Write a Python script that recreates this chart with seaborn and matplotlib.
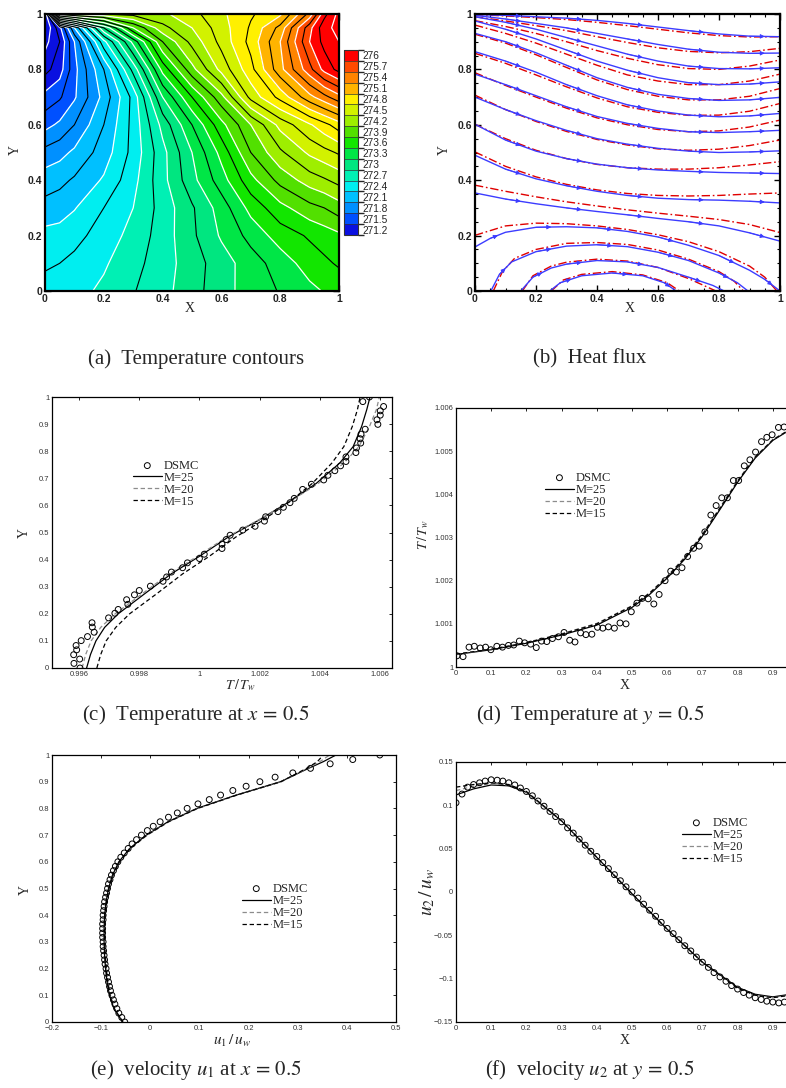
import matplotlib
matplotlib.use("Agg")
import numpy as np
import pandas as pd
import matplotlib.pyplot as plt
import seaborn as sns
from matplotlib.colors import ListedColormap, BoundaryNorm
from matplotlib.cm import ScalarMappable
from matplotlib.ticker import MultipleLocator, FixedLocator, FuncFormatter

# ---------------- (a) temperature field ----------------
grid_x = [0, 0.05, 0.1, 0.2, 0.3, 0.4, 0.5, 0.6, 0.7, 0.8, 0.9, 0.95, 1.0]
grid_y = [0, 0.1, 0.2, 0.3, 0.4, 0.5, 0.6, 0.7, 0.8, 0.9, 0.95, 1.0]
temp_y00 = [272.45, 272.47, 272.50, 272.58, 272.69, 272.80, 272.94, 273.09, 273.22, 273.31, 273.41, 273.46, 273.50]
temp_y01 = [272.38, 272.40, 272.44, 272.53, 272.65, 272.78, 272.93, 273.08, 273.23, 273.37, 273.52, 273.57, 273.62]
temp_y02 = [272.30, 272.31, 272.35, 272.47, 272.60, 272.77, 272.97, 273.17, 273.35, 273.52, 273.62, 273.67, 273.72]
temp_y03 = [272.15, 272.18, 272.24, 272.40, 272.55, 272.76, 272.98, 273.22, 273.50, 273.70, 273.85, 273.90, 273.98]
temp_y04 = [272.03, 272.06, 272.12, 272.27, 272.50, 272.80, 273.10, 273.38, 273.70, 273.95, 274.12, 274.18, 274.25]
temp_y05 = [271.85, 271.90, 271.98, 272.17, 272.45, 272.80, 273.15, 273.50, 273.90, 274.17, 274.38, 274.45, 274.52]
temp_y06 = [271.60, 271.68, 271.80, 272.10, 272.45, 272.90, 273.30, 273.70, 274.05, 274.40, 274.63, 274.75, 274.88]
temp_y07 = [271.40, 271.48, 271.63, 272.00, 272.45, 273.15, 273.60, 274.00, 274.55, 274.85, 275.20, 275.35, 275.50]
temp_y08 = [271.15, 271.28, 271.60, 272.10, 272.75, 273.50, 274.00, 274.40, 274.75, 275.20, 275.65, 275.90, 276.05]
temp_y09 = [271.00, 271.20, 271.65, 272.50, 273.20, 273.90, 274.25, 274.55, 274.85, 275.25, 275.85, 276.05, 276.15]
temp_y095 = [270.90, 271.30, 271.95, 273.00, 273.75, 274.15, 274.35, 274.58, 274.82, 275.15, 275.80, 276.10, 276.20]
temp_y10 = [270.80, 274.00, 274.15, 274.20, 274.25, 274.32, 274.45, 274.62, 274.78, 274.92, 275.45, 275.95, 276.20]

cbar_labels = [271.2, 271.5, 271.8, 272.1, 272.4, 272.7, 273.0, 273.3, 273.6,
               273.9, 274.2, 274.5, 274.8, 275.1, 275.4, 275.7, 276.0]
cbar_colors = ['#0a10e0', '#0050ff', '#0090ff', '#00c0ff', '#00eef0', '#00f0b4',
               '#00e680', '#00e646', '#12e600', '#52e000', '#9eee00', '#d2f200',
               '#fff000', '#ffb400', '#ff8400', '#ff4a00', '#ff0000']

# ---------------- (b) heat-flux lines ----------------
flux_x = [0, 0.1, 0.2, 0.3, 0.4, 0.5, 0.6, 0.7, 0.8, 0.9, 1.0]
blue_1 = [0.998, 0.995, 0.990, 0.985, 0.977, 0.966, 0.953, 0.940, 0.928, 0.920, 0.918]
blue_2 = [0.995, 0.982, 0.966, 0.950, 0.930, 0.910, 0.890, 0.873, 0.862, 0.858, 0.859]
blue_3 = [0.990, 0.970, 0.945, 0.915, 0.885, 0.855, 0.830, 0.812, 0.803, 0.802, 0.806]
blue_4 = [0.975, 0.945, 0.910, 0.870, 0.830, 0.797, 0.770, 0.752, 0.745, 0.747, 0.755]
blue_5 = [0.930, 0.900, 0.860, 0.815, 0.770, 0.735, 0.710, 0.695, 0.688, 0.690, 0.699]
blue_6 = [0.864, 0.830, 0.790, 0.745, 0.705, 0.672, 0.650, 0.635, 0.629, 0.632, 0.641]
blue_7 = [0.783, 0.745, 0.705, 0.665, 0.630, 0.605, 0.587, 0.575, 0.572, 0.575, 0.580]
blue_8 = [0.700, 0.655, 0.615, 0.580, 0.550, 0.530, 0.515, 0.505, 0.500, 0.502, 0.506]
blue_9 = [0.602, 0.545, 0.505, 0.478, 0.458, 0.445, 0.437, 0.432, 0.428, 0.426, 0.424]
blue_10 = [0.490, 0.440, 0.405, 0.380, 0.360, 0.345, 0.335, 0.330, 0.328, 0.324, 0.318]
blue_11 = [0.354, 0.332, 0.315, 0.300, 0.287, 0.275, 0.262, 0.250, 0.235, 0.210, 0.180]
blue_12_x = [0, 0.05, 0.1, 0.2, 0.3, 0.4, 0.5, 0.6, 0.7, 0.8, 0.9, 0.95, 1.0]
blue_12_y = [0.159, 0.190, 0.212, 0.230, 0.232, 0.228, 0.215, 0.195, 0.165, 0.128, 0.075, 0.042, 0.0]
blue_arc1_x = [0.052, 0.08, 0.12, 0.2, 0.3, 0.4, 0.5, 0.6, 0.7, 0.8, 0.86, 0.895]
blue_arc1_y = [0.0, 0.06, 0.105, 0.142, 0.162, 0.167, 0.160, 0.140, 0.110, 0.065, 0.030, 0.0]
blue_arc2_x = [0.15, 0.19, 0.25, 0.3, 0.4, 0.5, 0.6, 0.7, 0.78, 0.817]
blue_arc2_y = [0.0, 0.05, 0.083, 0.097, 0.110, 0.105, 0.085, 0.050, 0.020, 0.0]
blue_arc3_x = [0.245, 0.28, 0.35, 0.45, 0.55, 0.62, 0.66]
blue_arc3_y = [0.0, 0.03, 0.055, 0.065, 0.055, 0.030, 0.0]

red_1 = [0.998, 0.993, 0.987, 0.980, 0.970, 0.958, 0.945, 0.932, 0.922, 0.917, 0.918]
red_2 = [0.990, 0.975, 0.958, 0.940, 0.918, 0.897, 0.878, 0.865, 0.860, 0.864, 0.876]
red_3 = [0.976, 0.955, 0.930, 0.900, 0.868, 0.840, 0.817, 0.803, 0.800, 0.812, 0.834]
red_4 = [0.960, 0.930, 0.895, 0.855, 0.815, 0.780, 0.758, 0.745, 0.745, 0.758, 0.783]
red_5 = [0.927, 0.895, 0.853, 0.807, 0.762, 0.727, 0.703, 0.690, 0.690, 0.703, 0.731]
red_6 = [0.858, 0.822, 0.780, 0.737, 0.697, 0.665, 0.645, 0.634, 0.635, 0.649, 0.677]
red_7 = [0.788, 0.742, 0.700, 0.660, 0.625, 0.600, 0.583, 0.575, 0.578, 0.592, 0.617]
red_8 = [0.707, 0.655, 0.612, 0.576, 0.547, 0.527, 0.513, 0.508, 0.512, 0.525, 0.545]
red_9 = [0.602, 0.550, 0.508, 0.478, 0.457, 0.445, 0.440, 0.440, 0.445, 0.455, 0.467]
red_10 = [0.502, 0.450, 0.412, 0.385, 0.365, 0.352, 0.345, 0.343, 0.345, 0.350, 0.354]
red_11 = [0.382, 0.360, 0.340, 0.322, 0.307, 0.293, 0.281, 0.270, 0.258, 0.240, 0.211]
red_12_x = [0, 0.1, 0.2, 0.3, 0.4, 0.5, 0.6, 0.7, 0.8, 0.9, 0.95, 0.99]
red_12_y = [0.201, 0.235, 0.245, 0.243, 0.235, 0.222, 0.203, 0.178, 0.142, 0.090, 0.050, 0.0]
red_arc1_x = [0.06, 0.09, 0.13, 0.2, 0.3, 0.4, 0.5, 0.6, 0.7, 0.8, 0.85, 0.88]
red_arc1_y = [0.0, 0.07, 0.118, 0.150, 0.172, 0.175, 0.168, 0.148, 0.115, 0.070, 0.035, 0.0]
red_arc2_x = [0.155, 0.19, 0.25, 0.3, 0.4, 0.5, 0.6, 0.7, 0.76, 0.79]
red_arc2_y = [0.0, 0.055, 0.090, 0.104, 0.115, 0.108, 0.085, 0.045, 0.015, 0.0]
red_arc3_x = [0.25, 0.29, 0.35, 0.45, 0.55, 0.63, 0.67]
red_arc3_y = [0.0, 0.04, 0.060, 0.070, 0.058, 0.030, 0.0]

# ---------------- (c) temperature at x=0.5 ----------------
c_dsmc_T = [0.99603, 0.99583, 0.99602, 0.99582, 0.99592, 0.99590, 0.99607, 0.99628, 0.99650, 0.99644,
            0.99643, 0.99698, 0.99719, 0.99730, 0.99762, 0.99758, 0.99784, 0.99800, 0.99837, 0.99879,
            0.99891, 0.99907, 0.99944, 0.99960, 1.00000, 1.00016, 1.00075, 1.00075, 1.00089, 1.00102,
            1.00144, 1.00185, 1.00216, 1.00220, 1.00261, 1.00279, 1.00301, 1.00315, 1.00343, 1.00372,
            1.00413, 1.00427, 1.00450, 1.00469, 1.00487, 1.00487, 1.00520, 1.00522, 1.00536, 1.00534,
            1.00537, 1.00551, 1.00593, 1.00590, 1.00601, 1.00601, 1.00612, 1.00543, 1.00565]
c_dsmc_Y = [0.000, 0.017, 0.033, 0.049, 0.067, 0.083, 0.101, 0.116, 0.132, 0.151,
            0.167, 0.185, 0.202, 0.216, 0.235, 0.252, 0.270, 0.286, 0.302, 0.320,
            0.336, 0.354, 0.370, 0.388, 0.404, 0.420, 0.441, 0.457, 0.474, 0.490,
            0.509, 0.523, 0.542, 0.558, 0.577, 0.593, 0.610, 0.626, 0.659, 0.678,
            0.694, 0.711, 0.728, 0.746, 0.762, 0.779, 0.795, 0.812, 0.830, 0.846,
            0.863, 0.881, 0.899, 0.916, 0.933, 0.949, 0.965, 0.983, 1.000]
c_line_Y = [0, 0.05, 0.1, 0.15, 0.2, 0.274, 0.348, 0.41, 0.484, 0.546, 0.614, 0.681, 0.756, 0.817, 0.891, 0.953, 1.0]
c_m25_T = [0.99625, 0.99638, 0.99656, 0.99685, 0.99730, 0.99818, 0.99907, 0.99997, 1.00097, 1.00198,
           1.00299, 1.00388, 1.00466, 1.00511, 1.00539, 1.00556, 1.00567]
c_m20_T = [0.99610, 0.99622, 0.99640, 0.99672, 0.99720, 0.99810, 0.99900, 0.99990, 1.00092, 1.00196,
           1.00300, 1.00395, 1.00480, 1.00530, 1.00565, 1.00588, 1.00598]
c_m15_T = [0.99659, 0.99672, 0.99690, 0.99722, 0.99768, 0.99858, 0.99945, 1.00030, 1.00122, 1.00212,
           1.00300, 1.00375, 1.00440, 1.00480, 1.00508, 1.00525, 1.00534]

# ---------------- (d) temperature at y=0.5 ----------------
d_dsmc_X = [0.003, 0.020, 0.037, 0.052, 0.069, 0.084, 0.099, 0.116, 0.132, 0.149, 0.164, 0.180, 0.195,
            0.212, 0.228, 0.243, 0.258, 0.274, 0.291, 0.307, 0.323, 0.338, 0.354, 0.369, 0.386, 0.402,
            0.417, 0.433, 0.450, 0.466, 0.483, 0.498, 0.514, 0.529, 0.546, 0.562, 0.577, 0.594, 0.610,
            0.626, 0.642, 0.658, 0.675, 0.691, 0.707, 0.724, 0.739, 0.755, 0.771, 0.788, 0.803, 0.819,
            0.835, 0.851, 0.868, 0.883, 0.898, 0.916, 0.932, 0.948, 0.965, 0.980]
d_dsmc_T = [1.00026, 1.00024, 1.00046, 1.00048, 1.00044, 1.00046, 1.00040, 1.00048, 1.00046, 1.00050,
            1.00051, 1.00060, 1.00056, 1.00053, 1.00045, 1.00060, 1.00059, 1.00066, 1.00070, 1.00080,
            1.00062, 1.00058, 1.00079, 1.00075, 1.00076, 1.00092, 1.00090, 1.00093, 1.00090, 1.00102,
            1.00100, 1.00128, 1.00148, 1.00159, 1.00158, 1.00146, 1.00168, 1.00200, 1.00222, 1.00220,
            1.00230, 1.00256, 1.00275, 1.00280, 1.00313, 1.00352, 1.00374, 1.00392, 1.00392, 1.00432,
            1.00432, 1.00466, 1.00480, 1.00498, 1.00522, 1.00532, 1.00538, 1.00555, 1.00556, 1.00560,
            1.00562, 1.00560]
d_line_X = [0, 0.1, 0.2, 0.3, 0.4, 0.5, 0.55, 0.6, 0.65, 0.7, 0.75, 0.8, 0.85, 0.9, 0.95, 1.0]
d_m25_T = [1.00029, 1.00040, 1.00055, 1.00074, 1.00097, 1.00138, 1.00168, 1.00206, 1.00250, 1.00303,
           1.00365, 1.00428, 1.00484, 1.00525, 1.00550, 1.00562]
d_m20_T = [1.00029, 1.00041, 1.00057, 1.00077, 1.00101, 1.00142, 1.00172, 1.00210, 1.00255, 1.00308,
           1.00370, 1.00432, 1.00487, 1.00527, 1.00551, 1.00562]
d_m15_T = [1.00030, 1.00041, 1.00056, 1.00076, 1.00100, 1.00141, 1.00171, 1.00209, 1.00253, 1.00306,
           1.00368, 1.00430, 1.00486, 1.00526, 1.00551, 1.00562]

# ---------------- (e) velocity u1 at x=0.5 ----------------
e_dsmc_Y = [0.000, 0.017, 0.033, 0.050, 0.067, 0.083, 0.100, 0.117, 0.133, 0.150, 0.167, 0.183, 0.200,
            0.217, 0.233, 0.250, 0.267, 0.283, 0.300, 0.317, 0.333, 0.350, 0.367, 0.383, 0.400, 0.417,
            0.433, 0.450, 0.467, 0.483, 0.500, 0.517, 0.533, 0.550, 0.567, 0.583, 0.600, 0.617, 0.633,
            0.650, 0.667, 0.683, 0.700, 0.717, 0.733, 0.750, 0.767, 0.783, 0.800, 0.817, 0.833, 0.850,
            0.867, 0.883, 0.900, 0.917, 0.933, 0.950, 0.967, 0.983, 1.000]
e_dsmc_u = [-0.052, -0.058, -0.064, -0.068, -0.072, -0.075, -0.078, -0.081, -0.083, -0.085, -0.087,
            -0.089, -0.090, -0.092, -0.093, -0.094, -0.095, -0.096, -0.096, -0.097, -0.097, -0.097,
            -0.097, -0.096, -0.096, -0.095, -0.094, -0.093, -0.091, -0.089, -0.087, -0.085, -0.082,
            -0.079, -0.075, -0.071, -0.066, -0.060, -0.053, -0.045, -0.037, -0.028, -0.018, -0.006,
            0.006, 0.020, 0.037, 0.055, 0.075, 0.097, 0.120, 0.143, 0.168, 0.195, 0.223, 0.254, 0.290,
            0.326, 0.366, 0.412, 0.467]
e_line_Y = [0, 0.05, 0.1, 0.15, 0.2, 0.25, 0.3, 0.35, 0.4, 0.45, 0.5, 0.55, 0.6, 0.65, 0.7, 0.75,
            0.8, 0.85, 0.9, 0.95, 0.975, 1.0]
e_m25_u = [-0.056, -0.074, -0.083, -0.088, -0.091, -0.093, -0.094, -0.094, -0.093, -0.090, -0.085,
           -0.077, -0.064, -0.042, -0.008, 0.036, 0.095, 0.175, 0.265, 0.322, 0.352, 0.378]
e_m20_u = [-0.056, -0.073, -0.081, -0.086, -0.089, -0.091, -0.092, -0.092, -0.091, -0.088, -0.083,
           -0.075, -0.062, -0.040, -0.006, 0.038, 0.097, 0.177, 0.267, 0.320, 0.345, 0.365]
e_m15_u = [-0.056, -0.073, -0.082, -0.087, -0.090, -0.092, -0.093, -0.093, -0.092, -0.089, -0.084,
           -0.076, -0.063, -0.041, -0.007, 0.037, 0.096, 0.176, 0.266, 0.318, 0.340, 0.352]

# ---------------- (f) velocity u2 at y=0.5 ----------------
f_dsmc_X = [0.000, 0.017, 0.033, 0.050, 0.067, 0.083, 0.100, 0.117, 0.133, 0.150, 0.167, 0.183, 0.200,
            0.217, 0.233, 0.250, 0.267, 0.283, 0.300, 0.317, 0.333, 0.350, 0.367, 0.383, 0.400, 0.417,
            0.433, 0.450, 0.467, 0.483, 0.500, 0.517, 0.533, 0.550, 0.567, 0.583, 0.600, 0.617, 0.633,
            0.650, 0.667, 0.683, 0.700, 0.717, 0.733, 0.750, 0.767, 0.783, 0.800, 0.817, 0.833, 0.850,
            0.867, 0.883, 0.900, 0.917, 0.933, 0.950, 0.967, 0.983, 1.000]
f_dsmc_u = [0.103, 0.113, 0.121, 0.124, 0.126, 0.128, 0.1295, 0.129, 0.128, 0.126, 0.1235, 0.120,
            0.116, 0.111, 0.105, 0.099, 0.093, 0.087, 0.081, 0.074, 0.068, 0.061, 0.054, 0.047, 0.041,
            0.034, 0.027, 0.020, 0.013, 0.006, 0.000, -0.007, -0.014, -0.021, -0.028, -0.035, -0.042,
            -0.048, -0.055, -0.062, -0.068, -0.075, -0.081, -0.087, -0.093, -0.098, -0.103, -0.108,
            -0.112, -0.116, -0.119, -0.122, -0.124, -0.126, -0.127, -0.128, -0.127, -0.125, -0.122,
            -0.117, -0.112]
f_line_X = [0, 0.05, 0.1, 0.15, 0.2, 0.3, 0.4, 0.5, 0.6, 0.7, 0.8, 0.85, 0.9, 0.95, 1.0]
f_m25_u = [0.112, 0.119, 0.1235, 0.1225, 0.115, 0.082, 0.040, -0.002, -0.043, -0.081, -0.110,
           -0.118, -0.121, -0.118, -0.109]
f_m20_u = [0.117, 0.122, 0.125, 0.1235, 0.1155, 0.082, 0.040, -0.002, -0.043, -0.081, -0.111,
           -0.119, -0.122, -0.119, -0.110]
f_m15_u = [0.121, 0.124, 0.126, 0.124, 0.116, 0.082, 0.040, -0.002, -0.043, -0.081, -0.111,
           -0.119, -0.122, -0.119, -0.110]

x_ticks_01 = [0, 0.1, 0.2, 0.3, 0.4, 0.5, 0.6, 0.7, 0.8, 0.9]

# ======================================================================
sns.set_theme(style="white")
plt.rcParams.update({
    "font.family": ["Liberation Sans", "DejaVu Sans"],
    "mathtext.fontset": "stix",
    "axes.unicode_minus": True,
})
SERIF = ["Liberation Serif", "DejaVu Serif"]
W, H = 786, 1088
fig = plt.figure(figsize=(W / 100, H / 100), dpi=100)
fig.patch.set_facecolor("white")


def box(left, top, right, bottom):
    return [left / W, 1 - bottom / H, (right - left) / W, (bottom - top) / H]


def gfmt(v, pos):
    s = f"{v:.4f}".rstrip("0").rstrip(".")
    if s in ("-0", ""):
        s = "0"
    return s.replace("-", "\u2212")


# ---------------- (a) ----------------
ax = fig.add_axes(box(45, 14, 339, 291))
Xg, Yg = np.meshgrid(grid_x, grid_y)
Z = np.array([temp_y00, temp_y01, temp_y02, temp_y03, temp_y04, temp_y05, temp_y06,
              temp_y07, temp_y08, temp_y09, temp_y095, temp_y10])
bounds = [v - 0.15 for v in cbar_labels] + [cbar_labels[-1] + 0.15]
Zc = np.clip(Z, bounds[0] + 1e-3, bounds[-1] - 1e-3)
ax.contourf(Xg, Yg, Zc, levels=bounds, colors=cbar_colors)
ax.contour(Xg, Yg, Z, levels=bounds, colors="white", linewidths=0.9)
ax.contour(Xg, Yg, Z, levels=cbar_labels, colors="black", linewidths=0.8)


def frame_ab(ax, xlab_xy, ylab_xy):
    ax.set_xlim(0, 1)
    ax.set_ylim(0, 1)
    ax.xaxis.set_major_locator(MultipleLocator(0.2))
    ax.yaxis.set_major_locator(MultipleLocator(0.2))
    ax.xaxis.set_minor_locator(MultipleLocator(0.05))
    ax.yaxis.set_minor_locator(MultipleLocator(0.05))
    ax.xaxis.set_major_formatter(FuncFormatter(gfmt))
    ax.yaxis.set_major_formatter(FuncFormatter(gfmt))
    ax.tick_params(which="both", direction="in", top=True, right=True, bottom=True, left=True,
                   colors="black", labelsize=7.5, pad=2)
    ax.tick_params(which="major", length=4.5, width=1.0)
    ax.tick_params(which="minor", length=2.5, width=0.8)
    for lbl in ax.get_xticklabels() + ax.get_yticklabels():
        lbl.set_fontweight("bold")
        lbl.set_color("#222222")
    for s in ax.spines.values():
        s.set_linewidth(1.6)
        s.set_color("black")
        s.set_visible(True)
    ax.set_xlabel("X", family=SERIF, fontsize=10)
    ax.set_ylabel("Y", family=SERIF, fontsize=10)
    ax.xaxis.set_label_coords(*xlab_xy)
    ax.yaxis.set_label_coords(*ylab_xy)


frame_ab(ax, (0.493, -0.04), (-0.078, 0.51))

cax = fig.add_axes(box(344, 50, 358, 235))
sm = ScalarMappable(norm=BoundaryNorm(bounds, len(cbar_colors)), cmap=ListedColormap(cbar_colors))
cb = fig.colorbar(sm, cax=cax, ticks=cbar_labels, drawedges=True,
                  format=FuncFormatter(lambda v, p: f"{v:g}"))
cb.ax.tick_params(length=0, labelsize=7.3, pad=3, colors="#222222")
cb.outline.set_linewidth(0.8)
cb.outline.set_edgecolor("#333333")
cb.dividers.set_color("#333333")
cb.dividers.set_linewidth(0.5)

# ---------------- (b) ----------------
ax = fig.add_axes(box(475, 14, 780, 291))
BLUE = "#3c3cff"
RED = "#e00000"
blue_curves = [(flux_x, b) for b in [blue_1, blue_2, blue_3, blue_4, blue_5, blue_6, blue_7,
                                     blue_8, blue_9, blue_10, blue_11]]
blue_curves += [(blue_12_x, blue_12_y), (blue_arc1_x, blue_arc1_y),
                (blue_arc2_x, blue_arc2_y), (blue_arc3_x, blue_arc3_y)]
red_curves = [(flux_x, r) for r in [red_1, red_2, red_3, red_4, red_5, red_6, red_7, red_8,
                                    red_9, red_10, red_11]]
red_curves += [(red_12_x, red_12_y), (red_arc1_x, red_arc1_y),
               (red_arc2_x, red_arc2_y), (red_arc3_x, red_arc3_y)]
for cx, cy in red_curves:
    sns.lineplot(x=cx, y=cy, ax=ax, color=RED, lw=1.0, sort=False, estimator=None)
    ax.lines[-1].set_dashes([6, 2, 1.2, 2])
for cx, cy in blue_curves:
    sns.lineplot(x=cx, y=cy, ax=ax, color=BLUE, lw=1.0, sort=False, estimator=None)
    n = len(cx)
    for i in range(1, n - 1, 2):
        xm = 0.5 * (cx[i] + cx[i + 1])
        ym = 0.5 * (cy[i] + cy[i + 1])
        ax.annotate("", xy=(xm, ym), xytext=(cx[i], cy[i]),
                    arrowprops=dict(arrowstyle="-|>", color=BLUE, lw=0.6,
                                    mutation_scale=6.5, shrinkA=0, shrinkB=0))
frame_ab(ax, (0.508, -0.04), (-0.079, 0.51))


# ---------------- helpers for (c)-(f) ----------------
def profile_axes(rect):
    ax = fig.add_axes(rect)
    for s in ax.spines.values():
        s.set_linewidth(0.9)
        s.set_color("black")
        s.set_visible(True)
    ax.tick_params(which="both", direction="in", top=True, right=True, length=2.5, width=0.6,
                   labelsize=5.5, colors="black", labelcolor="#333333", pad=2)
    ax.xaxis.set_major_formatter(FuncFormatter(gfmt))
    ax.yaxis.set_major_formatter(FuncFormatter(gfmt))
    return ax


def draw_profiles(ax, dsx, dsy, lx, ly25, ly20, ly15, vertical, leg_anchor):
    sns.scatterplot(x=dsx, y=dsy, ax=ax, marker="o", s=18, facecolor="none",
                    edgecolor="black", linewidth=0.7, zorder=3)
    sc = ax.collections[-1]
    sc.set_facecolor("none")
    sc.set_edgecolor("black")
    handles = [sc]
    styles = [(ly25, "black", None), (ly20, "#8c8c8c", [3.5, 2.2]), (ly15, "black", [3.5, 2.2])]
    for vals, col, dash in styles:
        if vertical:
            sns.lineplot(x=vals, y=lx, ax=ax, color=col, lw=0.9, sort=False, estimator=None)
        else:
            sns.lineplot(x=lx, y=vals, ax=ax, color=col, lw=0.9, sort=False, estimator=None)
        ln = ax.lines[-1]
        if dash:
            ln.set_dashes(dash)
        handles.append(ln)
    leg = ax.legend(handles, ["DSMC", "M=25", "M=20", "M=15"], loc="upper left",
                    bbox_to_anchor=leg_anchor, frameon=False, prop={"family": SERIF, "size": 9},
                    handlelength=2.3, handletextpad=0.15, labelspacing=0.0, borderaxespad=0,
                    borderpad=0, scatterpoints=1)
    return leg


# ---------------- (c) ----------------
ax = profile_axes(box(52, 397, 392, 668))
draw_profiles(ax, c_dsmc_T, c_dsmc_Y, c_line_Y, c_m25_T, c_m20_T, c_m15_T, True, (0.238, 0.768))
ax.set_xlim(0.99510, 1.00640)
ax.set_ylim(0, 1)
ax.xaxis.set_major_locator(MultipleLocator(0.002))
ax.yaxis.set_major_locator(MultipleLocator(0.1))
ax.set_xlabel(r"$T\,/\,T_w$", fontsize=10, labelpad=0)
ax.set_ylabel("Y", family=SERIF, fontsize=10)
ax.xaxis.set_label_coords(0.553, -0.033)
ax.yaxis.set_label_coords(-0.062, 0.5)

# ---------------- (d) ----------------
ax = profile_axes(box(456, 408, 808, 667))
draw_profiles(ax, d_dsmc_X, d_dsmc_T, d_line_X, d_m25_T, d_m20_T, d_m15_T, False, (0.253, 0.753))
ax.set_xlim(0, 1)
ax.set_ylim(1.0, 1.006)
ax.xaxis.set_major_locator(FixedLocator(x_ticks_01))
ax.yaxis.set_major_locator(MultipleLocator(0.001))
ax.set_xlabel("X", family=SERIF, fontsize=10)
ax.set_ylabel(r"$T\,/\,T_w$", fontsize=10)
ax.xaxis.set_label_coords(0.48, -0.046)
ax.yaxis.set_label_coords(-0.071, 0.51)

# ---------------- (e) ----------------
ax = profile_axes(box(52, 755, 396, 1022))
draw_profiles(ax, e_dsmc_u, e_dsmc_Y, e_line_Y, e_m25_u, e_m20_u, e_m15_u, True, (0.552, 0.521))
ax.set_xlim(-0.2, 0.5)
ax.set_ylim(0, 1)
ax.xaxis.set_major_locator(MultipleLocator(0.1))
ax.yaxis.set_major_locator(MultipleLocator(0.1))
ax.set_xlabel(r"$u_1\,/\,u_w$", fontsize=11)
ax.set_ylabel("Y", family=SERIF, fontsize=10)
ax.xaxis.set_label_coords(0.523, -0.041)
ax.yaxis.set_label_coords(-0.058, 0.494)

# ---------------- (f) ----------------
ax = profile_axes(box(456, 762, 808, 1022))
draw_profiles(ax, f_dsmc_X, f_dsmc_u, f_line_X, f_m25_u, f_m20_u, f_m15_u, False, (0.642, 0.788))
ax.set_xlim(0, 1)
ax.set_ylim(-0.15, 0.15)
ax.xaxis.set_major_locator(FixedLocator(x_ticks_01))
ax.yaxis.set_major_locator(MultipleLocator(0.05))
ax.set_xlabel("X", family=SERIF, fontsize=10)
ax.set_ylabel(r"$u_2\,/\,u_w$", fontsize=14)
ax.xaxis.set_label_coords(0.48, -0.046)
ax.yaxis.set_label_coords(-0.054, 0.5)

# ---------------- captions ----------------
caps = [(196, 359, "(a)  Temperature contours"),
        (590, 359, "(b)  Heat flux"),
        (196, 715, r"(c)  Temperature at $x\,{=}\,0.5$"),
        (590, 715, r"(d)  Temperature at $y\,{=}\,0.5$"),
        (196, 1070, r"(e)  velocity $u_1$ at $x\,{=}\,0.5$"),
        (590, 1070, r"(f)  velocity $u_2$ at $y\,{=}\,0.5$")]
for cxp, cyp, txt in caps:
    fig.text(cxp / W, 1 - cyp / H, txt, ha="center", va="center", family=SERIF, fontsize=15)

fig.savefig("out.png", dpi=100, facecolor="white")
